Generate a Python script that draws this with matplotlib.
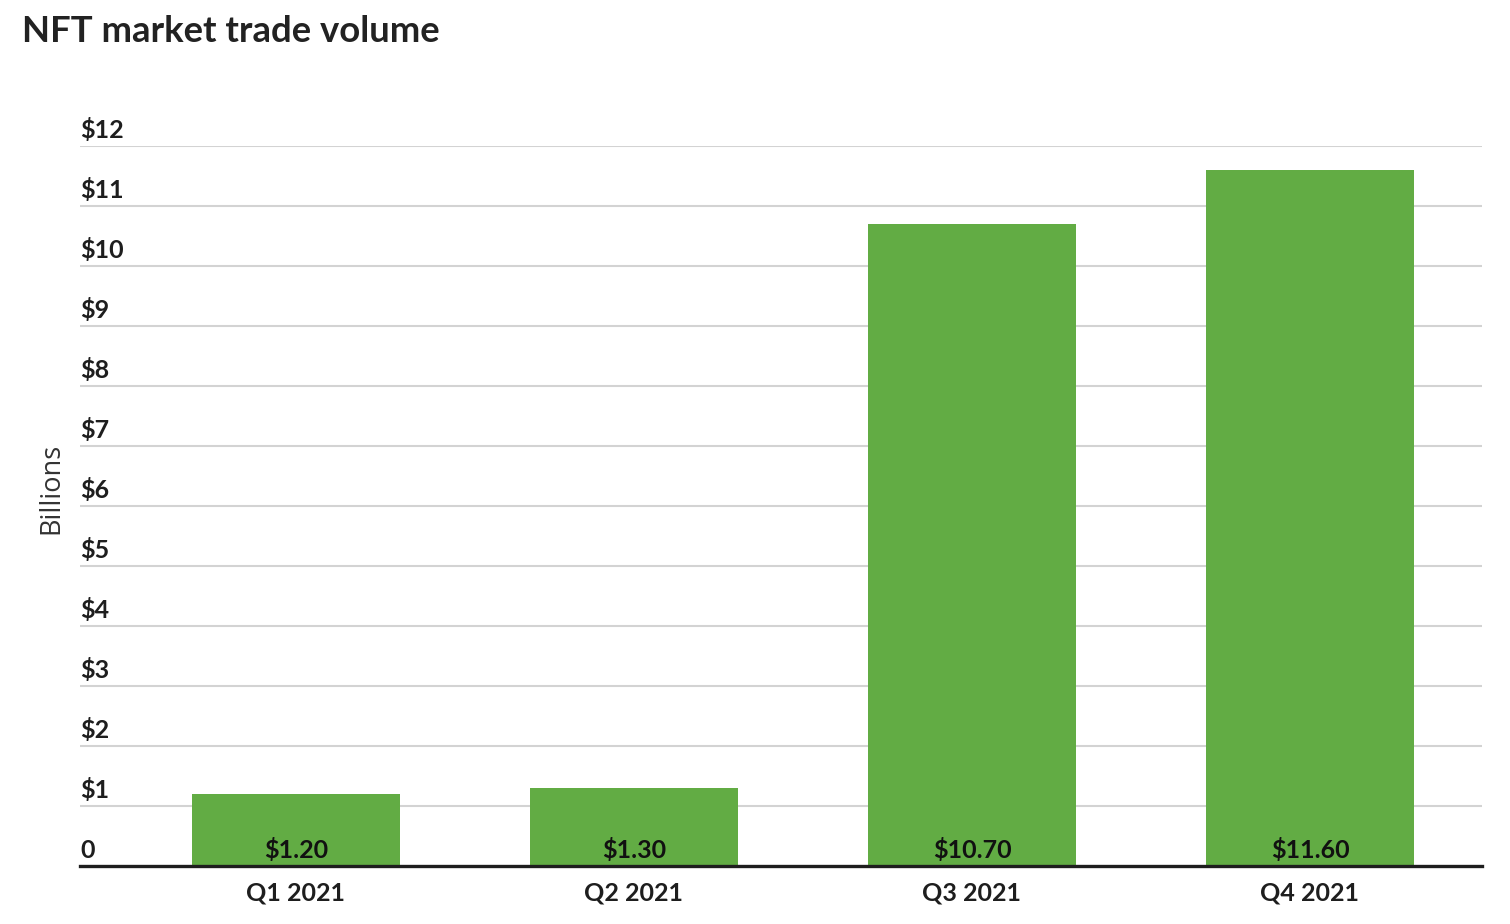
import matplotlib
matplotlib.use("Agg")
import matplotlib.pyplot as plt
import matplotlib.transforms as mtransforms

categories = ["Q1 2021", "Q2 2021", "Q3 2021", "Q4 2021"]
values = [1.20, 1.30, 10.70, 11.60]
ytick_values = list(range(0, 13))
ytick_labels = ["0"] + [f"${v}" for v in range(1, 13)]

W, H = 1510, 924
fig = plt.figure(figsize=(W / 100, H / 100), dpi=100)
left, right, bottom, top = 80, 1482, 866, 146
ax = fig.add_axes([left / W, (H - bottom) / H, (right - left) / W, (bottom - top) / H])

font = "Lato"
dark = "#1e1e1e"
green = "#62ac44"
fs = 18

x = list(range(len(categories)))
ax.bar(x, values, width=0.615, color=green, zorder=2)
ax.set_xlim(-0.639, 3.509)
ax.set_ylim(0, 12)

for s in ["top", "right", "left"]:
    ax.spines[s].set_visible(False)
ax.spines["bottom"].set_linewidth(2.4)
ax.spines["bottom"].set_color(dark)
ax.spines["bottom"].set_zorder(3)

ax.set_yticks(ytick_values)
ax.set_yticklabels([])
ax.tick_params(axis="y", length=0)
ax.yaxis.grid(True, color="#d3d3d3", linewidth=1.5, zorder=0)
ax.set_axisbelow(True)

ax.set_xticks(x)
ax.set_xticklabels(categories, fontfamily=font, fontweight="bold", fontsize=fs, color=dark)
ax.tick_params(axis="x", length=0, pad=11)

trans = mtransforms.offset_copy(ax.get_yaxis_transform(), fig=fig, y=6, units="points")
for v, lab in zip(ytick_values, ytick_labels):
    ax.text(0, v, lab, transform=trans, ha="left", va="baseline", fontfamily=font,
            fontweight="bold", fontsize=fs, color=dark, clip_on=False)

vtrans = mtransforms.offset_copy(ax.transData, fig=fig, y=5.5, units="points")
for xi, v in zip(x, values):
    ax.text(xi, 0, f"${v:.2f}", transform=vtrans, ha="center", va="baseline", fontfamily=font,
            fontweight="bold", fontsize=fs, color="#111111")

fig.text(51 / W, 1 - 488 / H, "Billions", rotation=90, ha="center", va="center",
         fontfamily="Open Sans", fontsize=19.5, color="#333333")

fig.text(22 / W, 1 - 31 / H, "NFT market trade volume", ha="left", va="center",
         fontfamily=font, fontweight="bold", fontsize=26.3, color="#222222")

fig.savefig("out.png", dpi=100, facecolor="white")
